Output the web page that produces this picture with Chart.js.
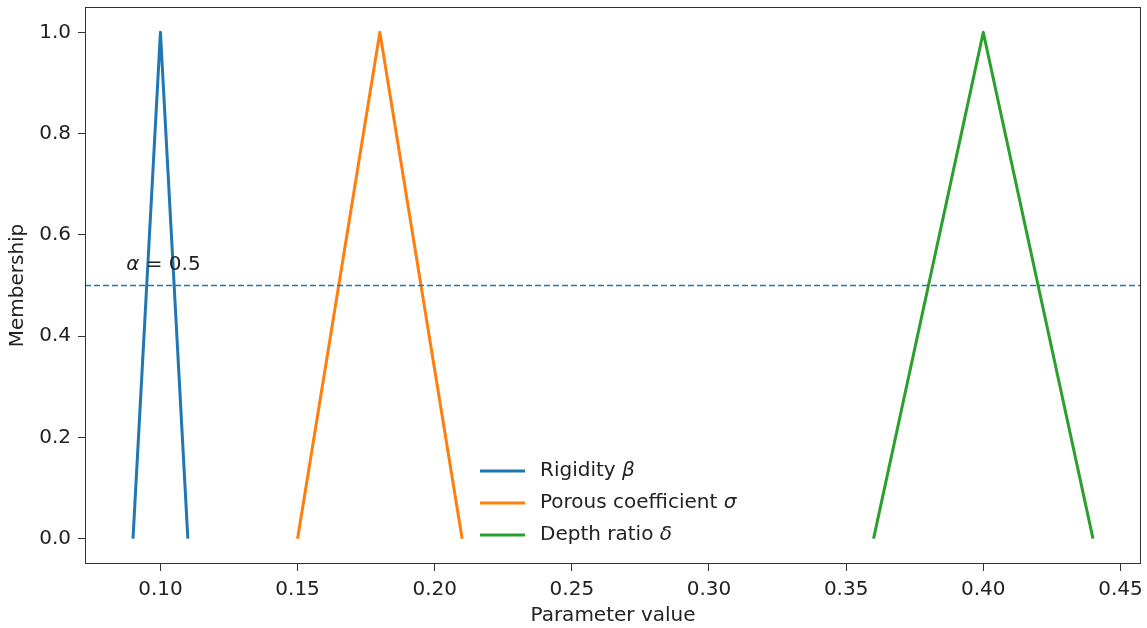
<!DOCTYPE html>
<html>
<head>
<meta charset="utf-8">
<script src="https://cdn.jsdelivr.net/npm/chart.js@4"></script>
<style>
  html, body { margin: 0; padding: 0; background: #fff; }
</style>
</head>
<body>
<canvas id="chart" width="1147" height="628"></canvas>
<script>
// data
const seriesNames = [['Rigidity ', 'β'], ['Porous coefficient ', 'σ'], ['Depth ratio ', 'δ']];
const seriesColors = ['#1f77b4', '#ff7f0e', '#2ca02c'];
const rigidityX = [0.09, 0.10, 0.11];
const porousX = [0.15, 0.18, 0.21];
const depthX = [0.36, 0.40, 0.44];
const membershipY = [0, 1, 0];
const alphaLevel = 0.5;
const alphaLabelPos = [0.0875, 0.53];
const xTicks = [0.10, 0.15, 0.20, 0.25, 0.30, 0.35, 0.40, 0.45];
const yTicks = [0.0, 0.2, 0.4, 0.6, 0.8, 1.0];
const xLimits = [0.0725, 0.4575];
const yLimits = [-0.05, 1.05];

const FONT = '"DejaVu Sans", Verdana, sans-serif';
const TEXT = '#222';

function pts(xs){ return xs.map((x, i) => ({x: x, y: membershipY[i]})); }

const tri = (label, xs, color) => ({
  label: label, data: pts(xs), borderColor: color, backgroundColor: color,
  borderWidth: 3, pointRadius: 0, tension: 0,
  borderJoinStyle: 'round', borderCapStyle: 'butt', order: 1
});

// frame, legend and the alpha label
const framePlugin = {
  id: 'frame',
  afterDatasetsDraw(chart){
    const {ctx, chartArea: a, scales} = chart;
    ctx.save();
    ctx.strokeStyle = '#333';
    ctx.lineWidth = 1;
    ctx.strokeRect(a.left + 0.5, a.top + 0.5, a.right - a.left - 1, a.bottom - a.top - 1);

    // alpha annotation
    let x = scales.x.getPixelForValue(alphaLabelPos[0]);
    const y = scales.y.getPixelForValue(alphaLabelPos[1]);
    ctx.fillStyle = TEXT;
    ctx.textBaseline = 'alphabetic';
    ctx.font = 'italic 20px ' + FONT;
    ctx.fillText('α', x, y);
    x += ctx.measureText('α').width;
    ctx.font = '20px ' + FONT;
    ctx.fillText(' = 0.5', x, y);

    // legend, no frame
    const lx = a.left + 395;
    const rows = [a.top + 464, a.top + 496, a.top + 528];
    seriesNames.forEach((n, i) => {
      ctx.strokeStyle = seriesColors[i];
      ctx.lineWidth = 3;
      ctx.beginPath();
      ctx.moveTo(lx, rows[i]);
      ctx.lineTo(lx + 45, rows[i]);
      ctx.stroke();
      ctx.textBaseline = 'middle';
      ctx.font = '20px ' + FONT;
      let tx = lx + 60;
      ctx.fillText(n[0], tx, rows[i]);
      tx += ctx.measureText(n[0]).width;
      ctx.font = 'italic 20px ' + FONT;
      ctx.fillText(n[1], tx, rows[i]);
    });
    ctx.restore();
  }
};

const ctx = document.getElementById('chart').getContext('2d');
const chart = new Chart(ctx, {
  type: 'line',
  data: {
    datasets: [
      tri(seriesNames[0].join(''), rigidityX, seriesColors[0]),
      tri(seriesNames[1].join(''), porousX, seriesColors[1]),
      tri(seriesNames[2].join(''), depthX, seriesColors[2]),
      {
        label: 'alpha', data: [{x: xLimits[0], y: alphaLevel}, {x: xLimits[1], y: alphaLevel}],
        borderColor: '#1f77b4', borderWidth: 1.5, borderDash: [6, 3],
        pointRadius: 0, order: 0
      }
    ]
  },
  options: {
    responsive: false,
    animation: false,
    devicePixelRatio: 1,
    layout: { padding: { top: 7, right: 6, left: 0, bottom: 0 } },
    plugins: { legend: { display: false }, tooltip: { enabled: false } },
    scales: {
      x: {
        type: 'linear', min: xLimits[0], max: xLimits[1],
        afterBuildTicks: s => { s.ticks = xTicks.map(v => ({value: v})); },
        afterFit: s => { s.height = 64; s.paddingLeft = 0; s.paddingRight = 0; },
        grid: { drawOnChartArea: false, drawTicks: true, tickLength: 7, tickColor: '#333' },
        border: { display: false },
        ticks: { color: TEXT, font: { family: FONT, size: 20 }, padding: 7, maxRotation: 0,
                 callback: v => v.toFixed(2) },
        title: { display: true, text: 'Parameter value', color: TEXT,
                 font: { family: FONT, size: 20 }, padding: { top: 0, bottom: 0 } }
      },
      y: {
        type: 'linear', min: yLimits[0], max: yLimits[1],
        afterBuildTicks: s => { s.ticks = yTicks.map(v => ({value: v})); },
        afterFit: s => { s.width = 85; s.paddingTop = 0; s.paddingBottom = 0; },
        grid: { drawOnChartArea: false, drawTicks: true, tickLength: 7, tickColor: '#333' },
        border: { display: false },
        ticks: { color: TEXT, font: { family: FONT, size: 20 }, padding: 7,
                 callback: v => v.toFixed(1) },
        title: { display: true, text: 'Membership', color: TEXT,
                 font: { family: FONT, size: 20 }, padding: { top: 6, bottom: 0 } }
      }
    }
  },
  plugins: [framePlugin]
});
</script>
</body>
</html>
